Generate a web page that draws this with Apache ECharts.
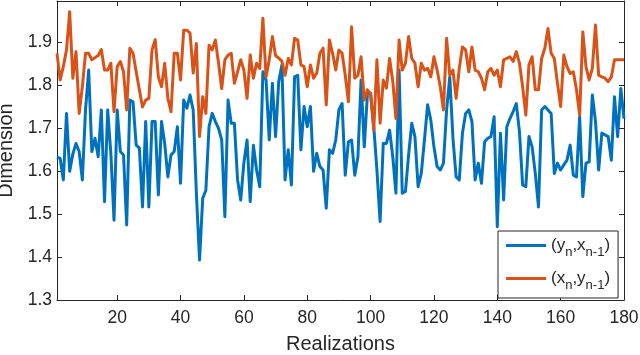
<!DOCTYPE html>
<html>
<head>
<meta charset="utf-8">
<script src="https://cdn.jsdelivr.net/npm/echarts@6/dist/echarts.min.js"></script>
<style>
html,body{margin:0;padding:0;background:#fff;}
#chart{width:640px;height:355px;}
</style>
</head>
<body>
<div id="chart"></div>
<script>
// Realization numbers 1..180
const realizations = Array.from({length: 180}, (_, k) => k + 1);

// (y_n, x_{n-1}) — blue
const seriesYX = [
1.633,1.630,1.580,1.735,1.600,1.640,1.665,1.646,1.580,1.743,
1.836,1.646,1.677,1.634,1.743,1.529,1.743,1.642,1.486,1.743,
1.646,1.638,1.475,1.766,1.762,1.661,1.654,1.517,1.716,1.517,
1.716,1.716,1.545,1.716,1.665,1.587,1.638,1.646,1.704,1.572,
1.766,1.747,1.778,1.743,1.549,1.393,1.537,1.556,1.704,1.735,
1.716,1.700,1.673,1.494,1.766,1.712,1.712,1.580,1.533,1.620,
1.673,1.529,1.661,1.603,1.564,1.832,1.813,1.673,1.805,1.681,
1.809,1.848,1.580,1.650,1.568,1.820,1.824,1.650,1.751,1.704,
1.751,1.600,1.642,1.611,1.603,1.514,1.650,1.642,1.673,1.743,
1.758,1.591,1.669,1.673,1.591,1.634,1.813,1.657,1.780,1.782,
1.704,1.603,1.483,1.665,1.665,1.696,1.634,1.549,1.836,1.549,
1.553,1.638,1.712,1.681,1.564,1.595,1.673,1.755,1.720,1.657,
1.611,1.603,1.619,1.743,1.820,1.677,1.587,1.580,1.689,1.735,
1.743,1.716,1.580,1.619,1.572,1.669,1.677,1.681,1.727,1.471,
1.689,1.533,1.704,1.723,1.739,1.758,1.692,1.568,1.564,1.681,
1.657,1.595,1.517,1.743,1.751,1.743,1.735,1.595,1.619,1.603,
1.615,1.626,1.661,1.591,1.587,1.727,1.541,1.619,1.622,1.778,
1.716,1.603,1.689,1.685,1.681,1.626,1.774,1.681,1.793,1.723
];

// (x_n, y_{n-1}) — orange
const seriesXY = [
1.875,1.813,1.844,1.883,1.972,1.817,1.879,1.735,1.797,1.875,
1.875,1.860,1.865,1.870,1.884,1.836,1.836,1.852,1.739,1.844,
1.856,1.832,1.743,1.887,1.875,1.832,1.790,1.750,1.766,1.770,
1.883,1.907,1.820,1.797,1.852,1.770,1.739,1.875,1.875,1.813,
1.929,1.929,1.922,1.829,1.898,1.681,1.774,1.735,1.894,1.883,
1.906,1.852,1.793,1.860,1.871,1.875,1.805,1.832,1.860,1.836,
1.770,1.871,1.817,1.852,1.840,1.957,1.820,1.860,1.914,1.870,
1.864,1.857,1.824,1.863,1.848,1.910,1.906,1.848,1.844,1.797,
1.848,1.817,1.829,1.875,1.887,1.755,1.906,1.875,1.836,1.883,
1.875,1.824,1.762,1.937,1.817,1.824,1.867,1.766,1.790,1.780,
1.696,1.860,1.712,1.813,1.794,1.863,1.810,1.723,1.906,1.836,
1.852,1.914,1.863,1.852,1.797,1.852,1.836,1.840,1.820,1.867,
1.836,1.797,1.743,1.910,1.824,1.836,1.770,1.840,1.890,1.883,
1.832,1.890,1.836,1.832,1.817,1.790,1.832,1.840,1.824,1.836,
1.797,1.860,1.863,1.867,1.856,1.879,1.852,1.797,1.731,1.848,
1.867,1.790,1.790,1.863,1.887,1.933,1.875,1.863,1.805,1.751,
1.871,1.844,1.828,1.832,1.790,1.731,1.925,1.844,1.813,1.840,
1.941,1.824,1.820,1.817,1.809,1.820,1.860,1.860,1.860,1.860
];

const xTicks = [20, 40, 60, 80, 100, 120, 140, 160, 180];
const yTicks = [1.3, 1.4, 1.5, 1.6, 1.7, 1.8, 1.9];
const seriesNames = ['(y{s|n},x{s|n-1})', '(x{s|n},y{s|n-1})'];

const axisColor = '#262626';
const fontFamily = '"Liberation Sans", Arial, Helvetica, sans-serif';

const chart = echarts.init(document.getElementById('chart'), null, {renderer: 'canvas'});

const baseX = {
  type: 'value', min: 1, max: 180,
  axisLine: {show: true, lineStyle: {color: axisColor, width: 1}},
  axisTick: {show: true, inside: true, length: 5, customValues: xTicks, lineStyle: {color: axisColor}},
  splitLine: {show: false}
};
const baseY = {
  type: 'value', min: 1.3, max: 1.997,
  axisLine: {show: true, lineStyle: {color: axisColor, width: 1}},
  axisTick: {show: true, inside: true, length: 5, customValues: yTicks, lineStyle: {color: axisColor}},
  splitLine: {show: false}
};

const option = {
  animation: false,
  backgroundColor: '#ffffff',
  textStyle: {fontFamily: fontFamily},
  grid: {left: 57, right: 16, top: 1, bottom: 55, containLabel: false, outerBoundsMode: 'none'},
  xAxis: [
    Object.assign({}, baseX, {
      position: 'bottom',
      name: 'Realizations', nameLocation: 'middle', nameGap: 34,
      nameTextStyle: {fontSize: 20, color: axisColor, fontFamily: fontFamily},
      axisLabel: {show: true, customValues: xTicks, margin: 9, fontSize: 17.5, color: axisColor, fontFamily: fontFamily}
    }),
    Object.assign({}, baseX, {position: 'top', axisLabel: {show: false}})
  ],
  yAxis: [
    Object.assign({}, baseY, {
      position: 'left',
      name: 'Dimension', nameLocation: 'middle', nameGap: 39, nameRotate: 90,
      nameTextStyle: {fontSize: 20, color: axisColor, fontFamily: fontFamily},
      axisLabel: {show: true, customValues: yTicks, margin: 5, fontSize: 17.5, color: axisColor, fontFamily: fontFamily,
        formatter: v => v.toFixed(1)}
    }),
    Object.assign({}, baseY, {position: 'right', axisLabel: {show: false}})
  ],
  legend: {
    orient: 'vertical',
    left: 498, top: 231,
    width: 120,
    padding: [6, 8, 6, 8],
    itemWidth: 40, itemHeight: 20, itemGap: 11,
    backgroundColor: '#ffffff',
    borderColor: '#262626', borderWidth: 1,
    formatter: function (name) { return name; },
    textStyle: {
      fontSize: 17, color: '#262626', fontFamily: fontFamily,
      rich: {
        s: {fontSize: 13, color: '#262626', fontFamily: fontFamily, verticalAlign: 'bottom', padding: [14, 0, 0, 0]}
      }
    },
    data: seriesNames.map(n => ({name: n, icon: 'path://M0,0 L40,0 L40,3 L0,3 Z'}))
  },
  series: [
    {
      name: seriesNames[0], type: 'line', xAxisIndex: 0, yAxisIndex: 0,
      data: realizations.map((r, k) => [r, seriesYX[k]]),
      showSymbol: false, symbol: 'none',
      lineStyle: {color: '#0072BD', width: 3, join: 'round'},
      itemStyle: {color: '#0072BD'}, clip: true
    },
    {
      name: seriesNames[1], type: 'line', xAxisIndex: 0, yAxisIndex: 0,
      data: realizations.map((r, k) => [r, seriesXY[k]]),
      showSymbol: false, symbol: 'none',
      lineStyle: {color: '#D95319', width: 3, join: 'round'},
      itemStyle: {color: '#D95319'}, clip: true
    }
  ]
};
chart.setOption(option);
</script>
</body>
</html>
